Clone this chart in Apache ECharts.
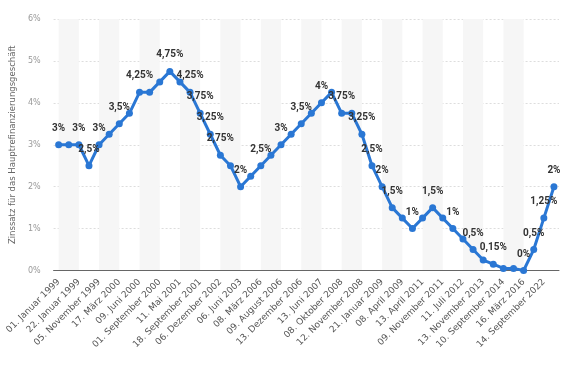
<!DOCTYPE html>
<html><head><meta charset="utf-8">
<script src="https://cdn.jsdelivr.net/npm/echarts@6/dist/echarts.min.js"></script>
<style>html,body{margin:0;padding:0;background:#fff;}#c{width:572px;height:366px;}</style>
</head><body><div id="c"></div>
<script>
var categories = ["01. Januar 1999","04. Januar 1999","22. Januar 1999","09. April 1999","05. November 1999","04. Februar 2000","17. März 2000","28. April 2000","09. Juni 2000","28. Juni 2000","01. September 2000","06. Oktober 2000","11. Mai 2001","31. August 2001","18. September 2001","09. November 2001","06. Dezember 2002","07. März 2003","06. Juni 2003","06. Dezember 2005","08. März 2006","15. Juni 2006","09. August 2006","11. Oktober 2006","13. Dezember 2006","14. März 2007","13. Juni 2007","09. Juli 2008","08. Oktober 2008","15. Oktober 2008","12. November 2008","10. Dezember 2008","21. Januar 2009","11. März 2009","08. April 2009","13. Mai 2009","13. April 2011","13. Juli 2011","09. November 2011","14. Dezember 2011","11. Juli 2012","08. Mai 2013","13. November 2013","11. Juni 2014","10. September 2014","09. Dezember 2015","16. März 2016","27. Juli 2022","14. September 2022","02. November 2022"];
var rates = [3,3,3,2.5,3,3.25,3.5,3.75,4.25,4.25,4.5,4.75,4.5,4.25,3.75,3.25,2.75,2.5,2,2.25,2.5,2.75,3,3.25,3.5,3.75,4,4.25,3.75,3.75,3.25,2.5,2,1.5,1.25,1,1.25,1.5,1.25,1,0.75,0.5,0.25,0.15,0.05,0.05,0,0.5,1.25,2];
var labeledIdx = [0,2,3,4,6,8,11,13,14,15,16,18,20,22,24,26,28,30,31,32,33,35,37,39,41,43,46,47,48,49];
var yTicks = [0,1,2,3,4,5,6];

var fmt = function(v){ return String(v).replace('.', ',') + '%'; };
var seriesData = rates.map(function(v,i){
  return {value: v, label: {show: labeledIdx.indexOf(i) >= 0}};
});

var chart = echarts.init(document.getElementById('c'));
chart.setOption({
  animation: false,
  grid: {left: 51, right: 13, top: 19, bottom: 95.5},
  xAxis: {
    type: 'category',
    data: categories,
    boundaryGap: true,
    axisLine: {lineStyle: {color: '#666', width: 1}},
    axisTick: {show: false},
    axisLabel: {interval: 1, rotate: 45, margin: 10, color: '#555', fontSize: 9, fontFamily: 'DejaVu Sans'},
    splitArea: {show: true, interval: 1, alignWithLabel: true, areaStyle: {color: ['#f6f6f6', 'rgba(255,255,255,0)']}}
  },
  yAxis: {
    type: 'value',
    min: yTicks[0], max: yTicks[yTicks.length-1], interval: 1,
    name: 'Zinssatz für das Hauptrefinanzierungsgeschäft',
    nameLocation: 'middle', nameRotate: 90, nameGap: 24,
    nameTextStyle: {color: '#666', fontSize: 8.5, fontFamily: 'DejaVu Sans'},
    axisLine: {show: false}, axisTick: {show: false},
    axisLabel: {formatter: function(v){return v + '%';}, color: '#999', fontSize: 8, margin: 13, fontFamily: 'DejaVu Sans'},
    splitLine: {lineStyle: {color: '#ddd', type: [2,2]}}
  },
  series: [{
    type: 'line',
    data: seriesData,
    color: '#2a77d4',
    showAllSymbol: true,
    lineStyle: {width: 3, color: '#2a77d4'},
    symbol: 'circle', symbolSize: 7,
    itemStyle: {color: '#2a77d4'},
    labelLayout: {hideOverlap: false},
    label: {show: false, position: 'top', distance: 8, offset: [2, 0], formatter: function(p){return fmt(p.value);}, color: '#333', fontWeight: 'bold', fontSize: 10, fontFamily: 'Roboto'}
  }]
});
</script></body></html>
